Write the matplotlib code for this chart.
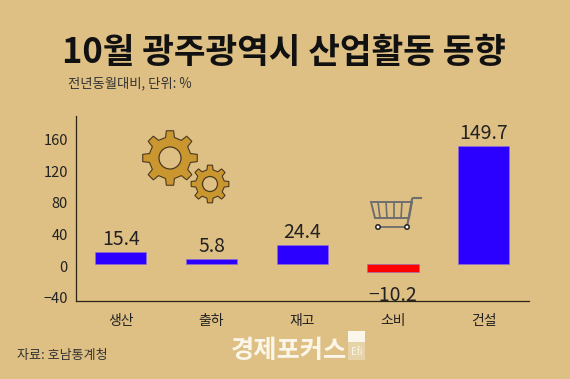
import numpy as np
import matplotlib
matplotlib.use('Agg')
import matplotlib.pyplot as plt
from matplotlib.patches import Polygon, Circle, Rectangle
from matplotlib.transforms import ScaledTranslation

plt.rcParams['font.family'] = ['Noto Sans CJK KR', 'DejaVu Sans']
plt.rcParams['axes.unicode_minus'] = False

categories = ['생산', '출하', '재고', '소비', '건설']
values = [15.4, 5.8, 24.4, -10.2, 149.7]
value_labels = ['15.4', '5.8', '24.4', '−10.2', '149.7']
y_ticks = [-40, 0, 40, 80, 120, 160]
y_tick_labels = ['−40', '0', '40', '80', '120', '160']

BG = '#DFC084'
W, H = 570, 379


def px(x, y):
    # figure fraction from picture pixels (y counted from the top)
    return x / W, 1 - y / H


def add_gear(fig, cx, cy, r_out, r_in, r_hole, teeth):
    angles = []
    radii = []
    step = 2 * np.pi / teeth
    for i in range(teeth):
        a = i * step - np.pi / 2
        angles += [a - step * 0.27, a - step * 0.17, a + step * 0.17, a + step * 0.27]
        radii += [r_in, r_out, r_out, r_in]
    pts = [(cx + r * np.cos(a), cy + r * np.sin(a)) for a, r in zip(angles, radii)]
    fig.add_artist(Polygon(pts, closed=True, facecolor='#C9962F', edgecolor='#4A3A20',
                           linewidth=0.8, transform=pix_tr, zorder=5))
    fig.add_artist(Circle((cx, cy), r_hole, facecolor=BG, edgecolor='#4A3A20',
                          linewidth=0.9, transform=pix_tr, zorder=6))


def add_cart(fig):
    c = '#6E6E6E'
    body = [(371, 202), (412, 202), (409, 218), (375, 218)]
    fig.add_artist(Polygon(body, closed=True, fill=False, edgecolor=c, linewidth=1.4,
                           transform=pix_tr, zorder=5))
    for xt, xb in [(378, 380), (386, 387), (394, 394), (402, 401)]:
        fig.add_artist(plt.Line2D([xt, xb], [202, 218], color=c, linewidth=1.2,
                                  transform=pix_tr, zorder=5))
    fig.add_artist(plt.Line2D([421, 413, 412, 407], [198, 198, 199, 227], color=c,
                              linewidth=1.5, transform=pix_tr, zorder=5))
    fig.add_artist(plt.Line2D([378, 407], [227, 227], color=c, linewidth=1.3,
                              transform=pix_tr, zorder=5))
    for xw in [378, 407]:
        fig.add_artist(Circle((xw, 227), 2.2, facecolor='white', edgecolor='#222222',
                              linewidth=1.1, transform=pix_tr, zorder=6))


fig = plt.figure(figsize=(5.7, 3.79), dpi=100, facecolor=BG)
# picture pixels, origin top left
pix_tr = matplotlib.transforms.Affine2D().scale(1, -1).translate(0, H)

ax_left, ax_right, ax_top, ax_bottom = 75.5, 529, 116, 301
ax = fig.add_axes([ax_left / W, 1 - ax_bottom / H, (ax_right - ax_left) / W, (ax_bottom - ax_top) / H])
ax.set_facecolor(BG)

x = np.arange(len(values))
colors = ['#2B00FF' if v >= 0 else '#FF0000' for v in values]
ax.bar(x, values, width=0.565, color=colors, edgecolor='#8F70D8', linewidth=0.4, zorder=3)

ax.set_xlim(-0.5, 4.5)
zero_y = 264
scale = 0.788
ax.set_ylim((zero_y - ax_bottom) / scale, (zero_y - ax_top) / scale)

for spine in ['top', 'right']:
    ax.spines[spine].set_visible(False)
for spine in ['left', 'bottom']:
    ax.spines[spine].set_linewidth(0.9)
    ax.spines[spine].set_color('#2A2414')

ax.set_yticks(y_ticks)
ax.set_yticklabels(y_tick_labels, fontsize=10.5, color='#222222')
ax.set_xticks(x)
ax.set_xticklabels(categories, fontsize=10, color='#222222')
ax.tick_params(axis='both', length=0)
ax.tick_params(axis='x', pad=9)
ax.tick_params(axis='y', pad=5.5)

# tick labels sit a little below their true position in the original
shift = ScaledTranslation(0, -2 / 100, fig.dpi_scale_trans)
for lab in ax.get_yticklabels():
    lab.set_transform(lab.get_transform() + shift)

for xi, v, txt in zip(x, values, value_labels):
    if v >= 0:
        ax.annotate(txt, (xi, v), xytext=(0, 1.5), textcoords='offset points',
                    ha='center', va='bottom', fontsize=14, color='#222222', zorder=4)
    else:
        ax.annotate(txt, (xi, v), xytext=(0, -9.5), textcoords='offset points',
                    ha='center', va='top', fontsize=14, color='#222222', zorder=4)

fig.text(*px(283.5, 52), '10월 광주광역시 산업활동 동향', fontsize=24.8, fontweight='bold',
         color='#111111', ha='center', va='center')
fig.text(*px(68, 83), '전년동월대비, 단위: %', fontsize=9.6, color='#333333', ha='left', va='center')
fig.text(*px(17, 356), '자료: 호남통계청', fontsize=9.4, color='#333333', ha='left', va='center')

# watermark
fig.text(*px(231, 350), '경제포커스', fontsize=18.2, fontweight='bold', color='#FBF6EA',
         ha='left', va='center')
fig.add_artist(Rectangle((348, 331), 17, 29, facecolor='#FBF6EA', edgecolor='none',
                         transform=pix_tr, zorder=5))
fig.add_artist(Rectangle((348, 342), 17, 18, facecolor='#E6D3A8', edgecolor='none',
                         transform=pix_tr, zorder=6))
fig.text(*px(356.5, 352), 'Efi', fontsize=7, color='#FBF6EA', ha='center', va='center', zorder=7)

add_gear(fig, 170, 158, 27.5, 21, 11, 8)
add_gear(fig, 210, 184, 19, 14.5, 7.5, 8)
add_cart(fig)

plt.savefig('out.png', dpi=100, facecolor=BG)
